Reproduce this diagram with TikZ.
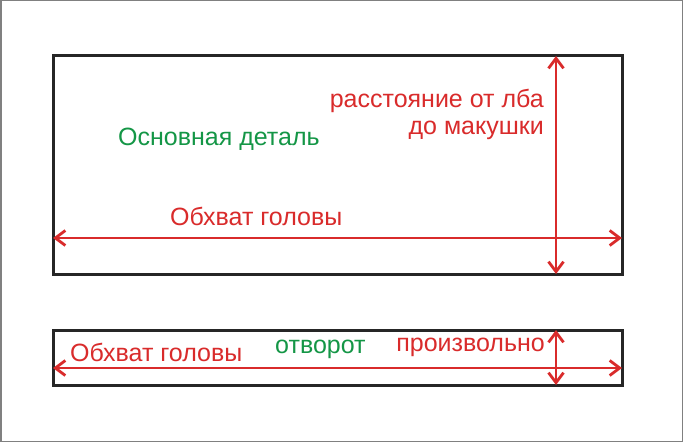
\documentclass[tikz,border=0pt]{standalone}
\usepackage{fontspec}
\setmainfont{Liberation Sans}
\usetikzlibrary{arrows.meta}

\definecolor{dimred}{RGB}{217,43,43}
\definecolor{partgreen}{RGB}{20,150,70}

\tikzset{
  part/.style={draw=black!85, line width=3pt},
  dim/.style={draw=dimred, line width=2.8pt, {Straight Barb[length=10pt,width=15pt]}-{Straight Barb[length=10pt,width=15pt]}},
  dimlabel/.style={text=dimred, font=\fontsize{25}{27}\selectfont, inner sep=0pt},
  partlabel/.style={text=partgreen, font=\fontsize{25}{27}\selectfont, inner sep=0pt}
}

\begin{document}
\begin{tikzpicture}[x=1pt,y=-1pt]
  \useasboundingbox (0,0) rectangle (684,443);
  \fill[white] (0,0) rectangle (684,443);
  \draw[gray, line width=1.5pt] (0.75,0.75) rectangle (682.5,441.5);

  % main piece
  \coordinate (mainNW) at (53,56);
  \coordinate (mainSE) at (622,274);
  \draw[part] (mainNW) rectangle (mainSE);

  \coordinate (girthL) at (53,238);
  \coordinate (girthR) at (622,238);
  \draw[dim] (girthL) -- (girthR);

  \coordinate (depthT) at (556,56);
  \coordinate (depthB) at (556,274);
  \draw[dim] (depthT) -- (depthB);

  \node[partlabel, anchor=base west] (mainname) at (118,146) {Основная деталь};
  \node[dimlabel, anchor=base west] (girthtext) at (170,226) {Обхват головы};
  \node[dimlabel, anchor=base east] (depthtext) at (544,108) {расстояние от лба};
  \node[dimlabel, anchor=base east] (depthtext2) at (544,135) {до макушки};

  % cuff
  \coordinate (cuffNW) at (53,330);
  \coordinate (cuffSE) at (622,385);
  \draw[part] (cuffNW) rectangle (cuffSE);

  \coordinate (cuffL) at (53,368);
  \coordinate (cuffR) at (622,368);
  \draw[dim] (cuffL) -- (cuffR);

  \coordinate (cuffT) at (556,330);
  \coordinate (cuffB) at (556,385);
  \draw[dim] (cuffT) -- (cuffB);

  \node[dimlabel, anchor=base west] (cuffgirth) at (70,361) {Обхват головы};
  \node[partlabel, anchor=base west] (cuffname) at (275,353) {отворот};
  \node[dimlabel, anchor=base east] (cufftext) at (545,351) {произвольно};
\end{tikzpicture}
\end{document}
